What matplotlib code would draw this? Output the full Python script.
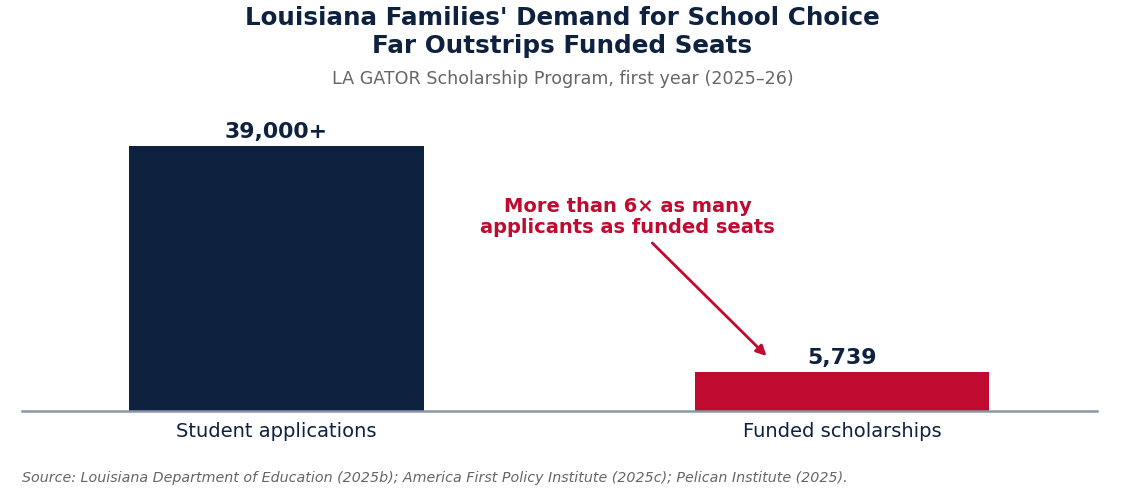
import matplotlib
matplotlib.use('Agg')
import matplotlib.pyplot as plt

# chart data
categories = ['Student applications', 'Funded scholarships']
values = [39000, 5739]
value_labels = ['39,000+', '5,739']

navy = '#0E2240'
red = '#C00A2F'

fig = plt.figure(figsize=(11.25, 4.94), dpi=100)
ax = fig.add_axes([22 / 1125, 1 - 411 / 494, (1097 - 22) / 1125, 311 / 494])

x = range(len(categories))
bars = ax.bar(x, values, width=0.52, color=[navy, red])

ax.set_xlim(-0.45, 1.45)
ax.set_ylim(0, 45770)

for b, lab in zip(bars, value_labels):
    ax.annotate(lab, xy=(b.get_x() + b.get_width() / 2, b.get_height()),
                xytext=(0, 3), textcoords='offset points',
                ha='center', va='bottom', fontsize=15.8, fontweight='bold', color=navy)

# annotation
ax.text(0.62, 28551, 'More than 6\u00d7 as many\napplicants as funded seats',
        ha='center', va='center', fontsize=14, fontweight='bold', color=red,
        linespacing=1.13)
ax.annotate('', xy=(0.866, 8094), xytext=(0.664, 24725),
            arrowprops=dict(arrowstyle='-|>', color=red, lw=2, mutation_scale=15,
                            shrinkA=0, shrinkB=0))

for s in ['top', 'right', 'left']:
    ax.spines[s].set_visible(False)
ax.spines['bottom'].set_color('#8A96A8')
ax.spines['bottom'].set_linewidth(1.8)
ax.set_yticks([])
ax.set_xticks(list(x))
ax.set_xticklabels(categories, fontsize=14, color=navy)
ax.tick_params(axis='x', length=0, pad=8)

fig.text(0.5, 1 - 32 / 494, "Louisiana Families' Demand for School Choice\nFar Outstrips Funded Seats",
         ha='center', va='center', fontsize=17.7, fontweight='bold', color=navy,
         linespacing=1.22)
fig.text(0.5, 1 - 79 / 494, 'LA GATOR Scholarship Program, first year (2025\u201326)',
         ha='center', va='center', fontsize=12.6, color='#666666')
fig.text(22 / 1125, 1 - 478 / 494,
         'Source: Louisiana Department of Education (2025b); America First Policy Institute (2025c); Pelican Institute (2025).',
         ha='left', va='center', fontsize=10.27, style='italic', color='#666666')

fig.savefig('out.png', dpi=100)
